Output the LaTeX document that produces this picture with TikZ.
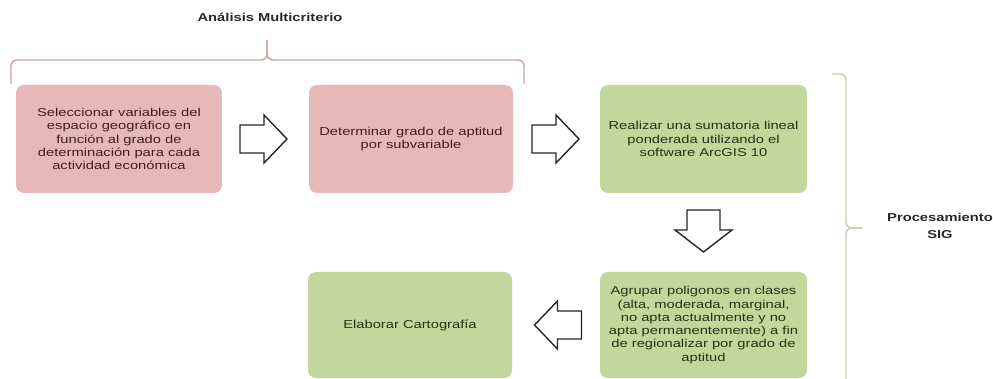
\documentclass[tikz,border=0pt]{standalone}
\usepackage{fontspec}
\setmainfont[FakeStretch=1.28]{Liberation Sans}
\usetikzlibrary{calc}
\definecolor{pinkfill}{RGB}{230,185,184}
\definecolor{greenfill}{RGB}{195,214,155}
\definecolor{pinktext}{RGB}{64,30,30}
\definecolor{greentext}{RGB}{40,50,20}
\definecolor{bracepink}{RGB}{214,160,160}
\definecolor{bracegreen}{RGB}{200,204,176}
\definecolor{labelgray}{RGB}{40,40,40}
\tikzset{
  box/.style={rectangle, rounded corners=8pt, align=center, inner sep=2pt,
    font=\fontsize{11.5}{13.3}\selectfont},
  pinkbox/.style={box, fill=pinkfill, text=pinktext},
  greenbox/.style={box, fill=greenfill, text=greentext},
  blockarrow/.style={draw=black!85, fill=white, line width=1.4pt, line join=miter},
  bracestyle/.style={line width=1.4pt, rounded corners=6pt},
  titlelabel/.style={font=\bfseries\fontsize{11.5}{16.5}\selectfont, text=labelgray, align=center},
  rarrow/.pic={\draw[blockarrow] (-23.5,-14) -- (0.5,-14) -- (0.5,-24) -- (23.5,0) -- (0.5,24) -- (0.5,14) -- (-23.5,14) -- cycle;},
  larrow/.pic={\draw[blockarrow] (23.5,-14) -- (-0.5,-14) -- (-0.5,-24) -- (-23.5,0) -- (-0.5,24) -- (-0.5,14) -- (23.5,14) -- cycle;},
  darrow/.pic={\draw[blockarrow] (-16.5,-21) -- (16.5,-21) -- (16.5,-1) -- (28.5,-1) -- (0,21) -- (-28.5,-1) -- (-16.5,-1) -- cycle;}
}
\begin{document}
\begin{tikzpicture}[x=1pt,y=-1pt]
\useasboundingbox (0,0) rectangle (993,379);

\node[pinkbox, minimum width=206pt, minimum height=108pt] (b1) at (119,139)
  {Seleccionar variables del\\espacio geográfico en\\función al grado de\\determinación para cada\\actividad económica};
\node[pinkbox, minimum width=204pt, minimum height=108pt] (b2) at (411,139)
  {Determinar grado de aptitud\\por subvariable};
\node[greenbox, minimum width=207pt, minimum height=108pt] (b3) at (703.5,139)
  {Realizar una sumatoria lineal\\ponderada utilizando el\\software ArcGIS 10};
\node[greenbox, minimum width=207pt, minimum height=106pt] (b4) at (703.5,325)
  {Agrupar poligonos en clases\\(alta, moderada, marginal,\\no apta actualmente y no\\apta permanentemente) a fin\\de regionalizar por grado de\\aptitud};
\node[greenbox, minimum width=204pt, minimum height=106pt] (b5) at (410,325)
  {Elaborar Cartografía};

\coordinate (a1) at ($(b1.east)!0.5!(b2.west)+(-2,0)$);
\coordinate (a2) at ($(b2.east)!0.5!(b3.west)+(-1,0)$);
\coordinate (a3) at ($(b3.south)!0.5!(b4.north)+(0,-1.5)$);
\coordinate (a4) at ($(b5.east)!0.5!(b4.west)+(2,0)$);
\pic at (a1) {rarrow};
\pic at (a2) {rarrow};
\pic at (a3) {darrow};
\pic at (a4) {larrow};

% top brace
\coordinate (tl) at (11,84);
\coordinate (tr) at (524,84);
\coordinate (ttip) at (267,40);
\draw[bracestyle, draw=bracepink] (tl) -- (11,60) -- (267,60) -- (ttip);
\draw[bracestyle, draw=bracepink] (ttip) -- (267,60) -- (524,60) -- (tr);
\node[titlelabel] (t1) at (270,17) {Análisis Multicriterio};

% right brace
\coordinate (rt) at (832,74);
\coordinate (rtip) at (862,228);
\coordinate (rb) at (846,384);
\draw[bracestyle, draw=bracegreen] (rt) -- (846,74) -- (846,228) -- (rtip);
\draw[bracestyle, draw=bracegreen] (rtip) -- (846,228) -- (rb);
\node[titlelabel] (t2) at (940,226) {Procesamiento\\SIG};
\end{tikzpicture}
\end{document}
